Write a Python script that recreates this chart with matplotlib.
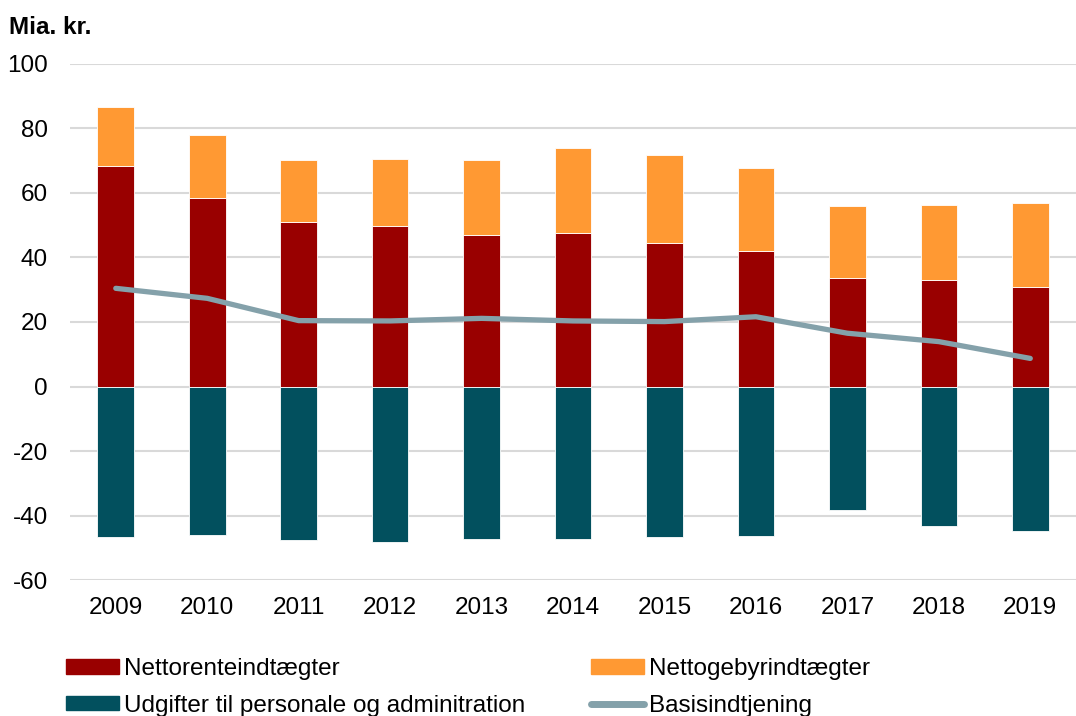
import numpy as np
import matplotlib.pyplot as plt
from matplotlib.patches import Patch
from matplotlib.lines import Line2D

plt.rcParams['font.family'] = ['Liberation Sans', 'DejaVu Sans']
plt.rcParams['axes.unicode_minus'] = False

# Data (mia. kr.)
years = ["2009", "2010", "2011", "2012", "2013", "2014", "2015", "2016", "2017", "2018", "2019"]
renter = [68.3, 58.3, 50.8, 49.7, 47.0, 47.4, 44.5, 42.0, 33.5, 32.9, 30.7]
gebyr = [18.3, 19.6, 19.2, 20.7, 23.2, 26.3, 27.2, 25.6, 22.4, 23.4, 26.2]
udgifter = [-46.5, -46.1, -47.4, -48.2, -47.3, -47.2, -46.5, -46.2, -38.2, -43.2, -44.6]
basis = [30.4, 27.3, 20.4, 20.3, 21.1, 20.3, 20.1, 21.6, 16.5, 13.9, 8.7]

c_red = "#990000"
c_orange = "#FF9933"
c_teal = "#02505E"
c_line = "#84A1AA"

fs = 17.5

fig = plt.figure(figsize=(10.76, 7.16), dpi=100)
ax = fig.add_axes([0.0651, 0.1895, 0.9349, 0.7218])

x = np.arange(len(years))
w = 0.4
ax.bar(x, renter, w, color=c_red, edgecolor="white", linewidth=0.6, zorder=2)
ax.bar(x, gebyr, w, bottom=renter, color=c_orange, edgecolor="white", linewidth=0.6, zorder=2)
ax.bar(x, udgifter, w, color=c_teal, edgecolor="white", linewidth=0.6, zorder=2)
ax.plot(x, basis, color=c_line, linewidth=3.8, solid_capstyle="round", solid_joinstyle="round", zorder=3)

ax.set_xlim(-0.5, len(years) - 0.5)
ax.set_ylim(-60, 100)
ax.set_yticks(range(-60, 101, 20))
ax.set_xticks(x)
ax.set_xticklabels(years)
ax.tick_params(axis="both", length=0, labelsize=fs, colors="black")
ax.tick_params(axis="x", pad=12)
ax.tick_params(axis="y", pad=16)
ax.grid(axis="y", color="#D9D9D9", linewidth=1.5, zorder=0)
ax.set_axisbelow(True)
for s in ax.spines.values():
    s.set_visible(False)

fig.text(0.008, 0.962, "Mia. kr.", fontsize=fs, fontweight="bold", va="center", ha="left")

handles = [
    Patch(color=c_red),
    Patch(color=c_teal),
    Patch(color=c_orange),
    Line2D([0], [0], color=c_line, linewidth=5, solid_capstyle="round"),
]
labels = ["Nettorenteindtægter", "Udgifter til personale og adminitration",
          "Nettogebyrindtægter", "Basisindtjening"]
fig.legend(handles, labels, ncol=2, loc="upper left", bbox_to_anchor=(0.061, 0.081),
           frameon=False, fontsize=fs, handlelength=2.2, handleheight=0.55,
           handletextpad=0.2, columnspacing=2.7, labelspacing=0.6, borderaxespad=0,
           borderpad=0)

fig.savefig("out.png", dpi=100)
